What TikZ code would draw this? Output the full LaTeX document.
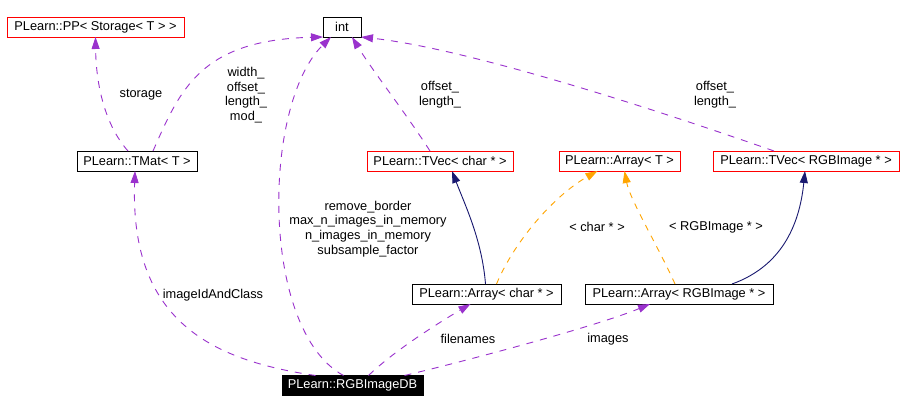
\documentclass[tikz,border=0pt]{standalone}
\usepackage{fontspec}
\setmainfont{Liberation Sans}
\usepackage{xcolor}
\usetikzlibrary{arrows.meta,positioning}

\definecolor{usecol}{HTML}{9A32CD}
\definecolor{tmplcol}{HTML}{FFA500}
\definecolor{inhcol}{HTML}{191970}
\definecolor{undoc}{HTML}{FF0000}

\begin{document}
\begin{tikzpicture}[
    x=1pt, y=-1pt,
    every node/.style={font=\fontsize{12.8}{14.7}\selectfont},
    cls/.style={draw, line width=0.9pt, minimum height=20pt, inner sep=0pt, outer sep=0pt},
    redcls/.style={cls, draw=undoc},
    maincls/.style={cls, fill=black, draw=black, text=white},
    lbl/.style={align=center, inner sep=0pt},
    useedge/.style={draw=usecol, line width=0.9pt, dash pattern=on 7pt off 7pt, -{Triangle[length=12pt,width=8pt]}, usecol},
    tmpledge/.style={draw=tmplcol, line width=0.9pt, dash pattern=on 6pt off 6pt, -{Triangle[length=12pt,width=8pt]}, tmplcol},
    inhedge/.style={draw=inhcol, line width=0.9pt, -{Triangle[length=12pt,width=8pt]}, inhcol}
]
\useasboundingbox[fill=white] (0,0) rectangle (902,412);

% Top row
\node[cls, minimum width=38pt] (int) at (342,27) {int};
\node[redcls, minimum width=177pt, left=139pt of int] (pp) {PLearn::PP< Storage< T > >};

% Middle row
\node[cls, minimum width=120pt] (tmat) at (137,161) {PLearn::TMat< T >};
\node[redcls, minimum width=146pt, right=170pt of tmat] (tvecchar) {PLearn::TVec< char * >};
\node[redcls, minimum width=121pt, right=46pt of tvecchar] (arrayt) {PLearn::Array< T >};
\node[redcls, minimum width=186pt, right=33pt of arrayt] (tvecimg) {PLearn::TVec< RGBImage * >};

% Lower row
\node[cls, minimum width=149pt] (arraychar) at (486.5,294) {PLearn::Array< char * >};
\node[cls, minimum width=188pt, right=24pt of arraychar] (arrayimg) {PLearn::Array< RGBImage * >};

% Documented class
\node[maincls, minimum width=141pt] (db) at (352.5,385.5) {PLearn::RGBImageDB};

% Usage relations
\draw[useedge] ([xshift=-9pt]tmat.north) .. controls (105,125) and (96,85) .. (pp.south);
\draw[useedge] ([xshift=16pt]tmat.north) .. controls (180,90) and (200,40) .. (int.south west);
\draw[useedge] ([xshift=-9pt]db.north) .. controls (260,330) and (262,105) .. ([xshift=-11pt]int.south);
\draw[useedge] ([xshift=-10pt]tvecchar.north) .. controls (405,112) and (372,70) .. ([xshift=10pt]int.south);
\draw[useedge] ([xshift=-32pt]tvecimg.north) .. controls (700,125) and (480,50) .. (int.south east);
\draw[useedge] ([xshift=-37pt]db.north) .. controls (210,360) and (130,320) .. ([xshift=-2pt]tmat.south);
\draw[useedge] ([xshift=16pt]db.north) .. controls (395,350) and (440,322) .. ([xshift=-16pt]arraychar.south);
\draw[useedge] ([xshift=52pt]db.north) .. controls (470,360) and (600,325) .. ([xshift=-29pt]arrayimg.south);

% Template instances
\draw[tmpledge] ([xshift=10pt]arraychar.north) .. controls (515,240) and (555,195) .. ([xshift=-22pt]arrayt.south);
\draw[tmpledge] ([xshift=-4pt]arrayimg.north) .. controls (660,250) and (630,200) .. ([xshift=5pt]arrayt.south);

% Inheritance
\draw[inhedge] ([xshift=-1pt]arraychar.north) .. controls (482,240) and (465,205) .. ([xshift=12pt]tvecchar.south);
\draw[inhedge] ([xshift=53pt]arrayimg.north) .. controls (785,265) and (800,220) .. ([xshift=-1pt]tvecimg.south);

% Labels
\node[lbl] (l_storage) at (141,95) {storage};
\node[lbl] (l_tmat) at (246,95) {width\_\\offset\_\\length\_\\mod\_};
\node[lbl] (l_db) at (368,229) {remove\_border\\max\_n\_images\_in\_memory\\n\_images\_in\_memory\\subsample\_factor};
\node[lbl] (l_tvecchar) at (440,95) {offset\_\\length\_};
\node[lbl] (l_tvecimg) at (715,95) {offset\_\\length\_};
\node[lbl] (l_char) at (597,227) {< char * >};
\node[lbl] (l_img) at (716,227) {< RGBImage * >};
\node[lbl] (l_idclass) at (213,295) {imageIdAndClass};
\node[lbl] (l_files) at (468,339) {filenames};
\node[lbl] (l_images) at (608,339) {images};

\end{tikzpicture}
\end{document}
